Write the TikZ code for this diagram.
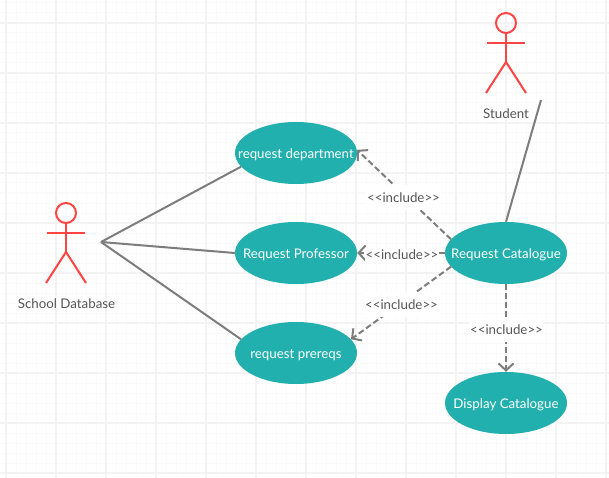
\documentclass[tikz,border=0pt]{standalone}
\usepackage{fontspec}
\setmainfont{Lato}
\usetikzlibrary{shapes.geometric,arrows.meta}
\definecolor{teal1}{HTML}{22B0AE}
\definecolor{redact}{HTML}{FF4444}
\definecolor{grayline}{HTML}{7D7D7D}
\definecolor{txtgray}{HTML}{555555}
\definecolor{gridminor}{HTML}{FAFAFA}
\definecolor{gridmajor}{HTML}{F3F3F3}
\newcommand{\uctext}[1]{\makebox[0pt]{\smash{\raisebox{-5.5pt}{#1}}}}
\tikzset{
  usecase/.style={ellipse,fill=teal1,text=white,minimum width=122pt,minimum height=62pt,inner sep=0pt,font=\fontsize{13.3}{15}\selectfont},
  assoc/.style={draw=grayline,line width=2pt},
  incl/.style={draw=grayline,line width=2pt,dash pattern=on 6pt off 3pt,-{Straight Barb[length=7pt,width=15pt,line width=2pt]}},
  incltext/.style={fill=white,text=txtgray,inner xsep=1pt,inner ysep=0pt,minimum height=25pt,font=\fontsize{13.3}{15}\selectfont},
  actorlabel/.style={text=txtgray,font=\fontsize{13.3}{15}\selectfont},
  head/.style={circle,draw=redact,line width=2pt,minimum size=20pt,inner sep=0pt},
  limb/.style={draw=redact,line width=2pt},
  gridmin/.style={draw=gridminor,line width=1pt},
  gridmaj/.style={draw=gridmajor,line width=2pt}
}
\begin{document}
\begin{tikzpicture}[x=1pt,y=-1pt]
\useasboundingbox (0,0) rectangle (609,478);
\fill[white] (0,0) rectangle (609,478);
\foreach \x in {6,16,...,606} \draw[gridmin] (\x,0) -- (\x,478);
\foreach \y in {3,13,...,473} \draw[gridmin] (0,\y) -- (609,\y);
\foreach \x in {6,56,...,606} \draw[gridmaj] (\x,0) -- (\x,478);
\foreach \y in {23,73,...,473} \draw[gridmaj] (0,\y) -- (609,\y);

\node[usecase] (dept) at (296,153) {\uctext{request department}};
\node[usecase] (prof) at (296,253) {\uctext{Request Professor}};
\node[usecase] (prer) at (296,353) {\uctext{request prereqs}};
\node[usecase] (cat) at (506,253) {\uctext{Request Catalogue}};
\node[usecase] (disp) at (506,403) {\uctext{Display Catalogue}};

% School Database actor
\node[head] (h1) at (66,213) {};
\coordinate (n1) at (66,252);
\draw[limb] (h1.south) -- (n1);
\draw[limb] (47,233) -- (85,233);
\draw[limb] (46,283) -- (n1) -- (86,283);
\node[actorlabel] (l1) at (66.5,303.5) {School Database};

% Student actor
\node[head] (h2) at (506,23) {};
\coordinate (n2) at (506,62);
\draw[limb] (h2.south) -- (n2);
\draw[limb] (487,43) -- (525,43);
\draw[limb] (486,93) -- (n2) -- (526,93);
\node[actorlabel] (l2) at (506,113.5) {Student};

% associations
\coordinate (port1) at (101,242);
\coordinate (port2) at (541,100);
\draw[assoc] (port1) -- (dept.194);
\draw[assoc] (port1) -- (prof.west);
\draw[assoc] (port1) -- (prer.166);
\draw[assoc] (port2) -- (cat.north);

% includes
\draw[incl] (cat.166) -- (dept.3);
\draw[incl] (cat.west) -- (prof.east);
\draw[incl] (cat.194) -- (prer.14);
\draw[incl] (cat.south) -- (disp.north);
\node[incltext] (i1) at (403.5,197.5) {<{}<include>{}>};
\node[incltext,minimum height=14pt] (i2) at (402,254.5) {<{}<include>{}>};
\node[incltext] (i3) at (401.5,304.5) {<{}<include>{}>};
\node[incltext] (i4) at (506.5,329.5) {<{}<include>{}>};
\end{tikzpicture}
\end{document}
